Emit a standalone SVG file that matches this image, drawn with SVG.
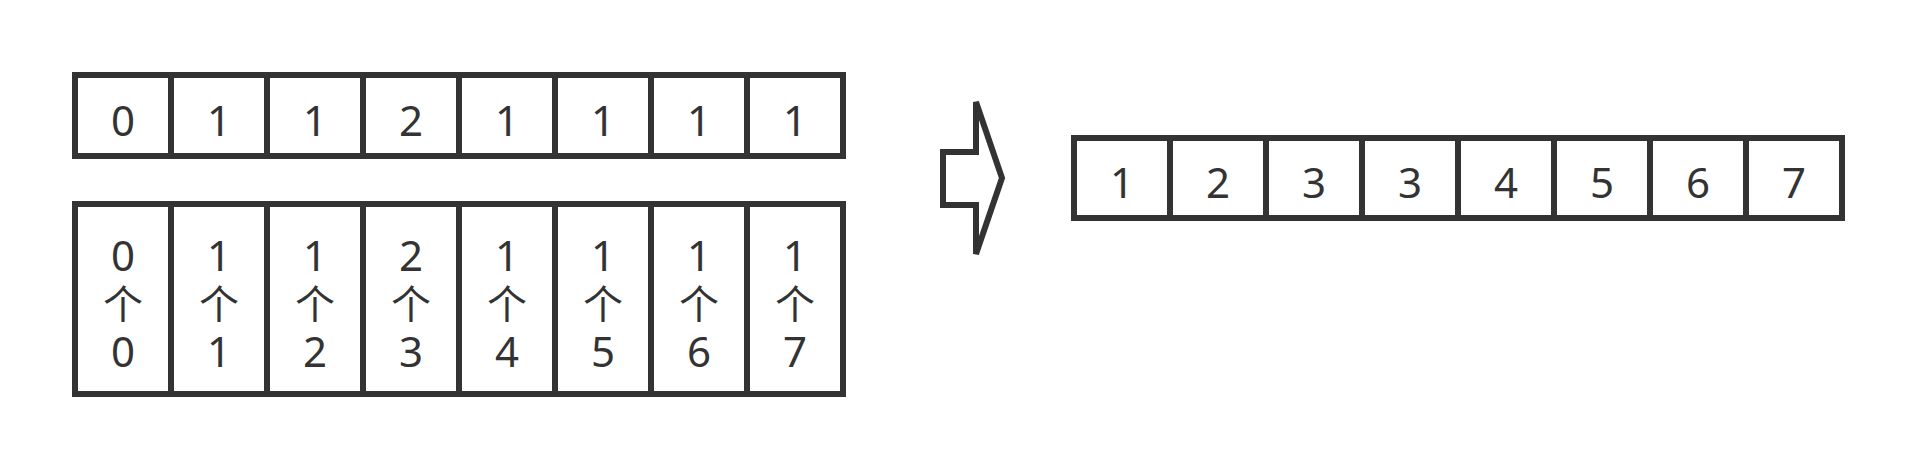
<svg xmlns="http://www.w3.org/2000/svg" width="1917" height="468" viewBox="0 0 1917 468">
<style>
.box{fill:#fff;stroke:#333;stroke-width:6}
.t{font-family:"Noto Sans","Open Sans",sans-serif;font-size:42px;fill:#333;text-anchor:middle}
.c{font-family:"Noto Sans CJK SC",sans-serif;font-size:40px;fill:#333;text-anchor:middle}
</style>
<rect width="1917" height="468" fill="#fff"/>
<g id="top-row">
<rect class="box" x="75" y="75" width="96" height="81"/>
<rect class="box" x="171" y="75" width="96" height="81"/>
<rect class="box" x="267" y="75" width="96" height="81"/>
<rect class="box" x="363" y="75" width="96" height="81"/>
<rect class="box" x="459" y="75" width="96" height="81"/>
<rect class="box" x="555" y="75" width="96" height="81"/>
<rect class="box" x="651" y="75" width="96" height="81"/>
<rect class="box" x="747" y="75" width="96" height="81"/>
<text class="t" x="123" y="136">0</text>
<text class="t" x="219" y="136">1</text>
<text class="t" x="315" y="136">1</text>
<text class="t" x="411" y="136">2</text>
<text class="t" x="507" y="136">1</text>
<text class="t" x="603" y="136">1</text>
<text class="t" x="699" y="136">1</text>
<text class="t" x="795" y="136">1</text>
</g>
<g id="bottom-row">
<rect class="box" x="75" y="204" width="96" height="190"/>
<rect class="box" x="171" y="204" width="96" height="190"/>
<rect class="box" x="267" y="204" width="96" height="190"/>
<rect class="box" x="363" y="204" width="96" height="190"/>
<rect class="box" x="459" y="204" width="96" height="190"/>
<rect class="box" x="555" y="204" width="96" height="190"/>
<rect class="box" x="651" y="204" width="96" height="190"/>
<rect class="box" x="747" y="204" width="96" height="190"/>
<text class="t" x="123" y="271">0</text><text class="c" x="123" y="319">个</text><text class="t" x="123" y="367">0</text>
<text class="t" x="219" y="271">1</text><text class="c" x="219" y="319">个</text><text class="t" x="219" y="367">1</text>
<text class="t" x="315" y="271">1</text><text class="c" x="315" y="319">个</text><text class="t" x="315" y="367">2</text>
<text class="t" x="411" y="271">2</text><text class="c" x="411" y="319">个</text><text class="t" x="411" y="367">3</text>
<text class="t" x="507" y="271">1</text><text class="c" x="507" y="319">个</text><text class="t" x="507" y="367">4</text>
<text class="t" x="603" y="271">1</text><text class="c" x="603" y="319">个</text><text class="t" x="603" y="367">5</text>
<text class="t" x="699" y="271">1</text><text class="c" x="699" y="319">个</text><text class="t" x="699" y="367">6</text>
<text class="t" x="795" y="271">1</text><text class="c" x="795" y="319">个</text><text class="t" x="795" y="367">7</text>
</g>
<g id="arrow">
<path d="M976,102 L1002,178 L976,254 L976,205 L943,205 L943,152 L976,152 Z" fill="#fff" stroke="#333" stroke-width="6" stroke-linejoin="miter"/>
</g>
<g id="result-row">
<rect class="box" x="1074" y="138" width="96" height="80"/>
<rect class="box" x="1170" y="138" width="96" height="80"/>
<rect class="box" x="1266" y="138" width="96" height="80"/>
<rect class="box" x="1362" y="138" width="96" height="80"/>
<rect class="box" x="1458" y="138" width="96" height="80"/>
<rect class="box" x="1554" y="138" width="96" height="80"/>
<rect class="box" x="1650" y="138" width="96" height="80"/>
<rect class="box" x="1746" y="138" width="96" height="80"/>
<text class="t" x="1122" y="198">1</text>
<text class="t" x="1218" y="198">2</text>
<text class="t" x="1314" y="198">3</text>
<text class="t" x="1410" y="198">3</text>
<text class="t" x="1506" y="198">4</text>
<text class="t" x="1602" y="198">5</text>
<text class="t" x="1698" y="198">6</text>
<text class="t" x="1794" y="198">7</text>
</g>
</svg>
